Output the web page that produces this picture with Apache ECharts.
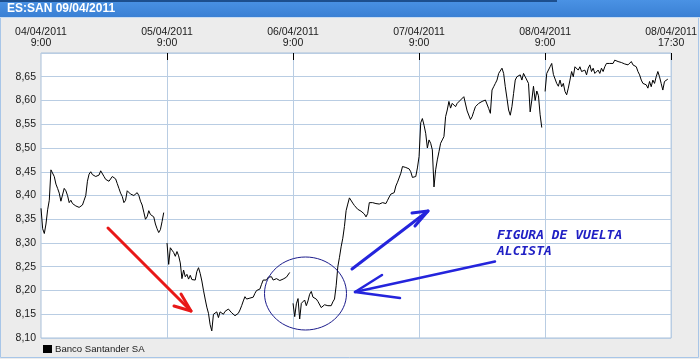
<!DOCTYPE html>
<html>
<head>
<meta charset="utf-8">
<script src="https://cdn.jsdelivr.net/npm/echarts@6/dist/echarts.min.js"></script>
<style>
html,body{margin:0;padding:0;background:#ececec;}
#c{width:700px;height:359px;}
</style>
</head>
<body>
<div id="c"></div>
<script>
// ---- data ----
const titleText = 'ES:SAN 09/04/2011';
const seriesName = 'Banco Santander SA';
const dayLabels = ['04/04/2011', '05/04/2011', '06/04/2011', '07/04/2011', '08/04/2011', '08/04/2011'];
const timeLabels = ['9:00', '9:00', '9:00', '9:00', '9:00', '17:30'];
const yMin = 8.10, yMax = 8.70, yStep = 0.05;
const STEP = 1 / 76; // sampling interval, fraction of one session

const day1 = [8.373,8.330,8.320,8.340,8.370,8.390,8.454,8.454,8.440,8.424,8.415,8.405,8.388,8.390,8.415,8.410,8.400,8.385,8.390,8.383,
  8.381,8.378,8.376,8.375,8.376,8.380,8.390,8.400,8.430,8.445,8.450,8.444,8.446,8.440,8.436,8.443,8.452,8.448,8.440,8.434,
  8.431,8.430,8.434,8.440,8.443,8.435,8.425,8.415,8.405,8.398,8.385,8.390,8.410,8.410,8.403,8.405,8.400,8.403,8.406,8.400,
  8.388,8.380,8.365,8.350,8.355,8.368,8.360,8.364,8.355,8.340,8.330,8.322,8.328,8.345,8.364];
const day2 = [8.300,8.255,8.290,8.285,8.280,8.272,8.282,8.273,8.258,8.225,8.243,8.229,8.234,8.224,8.232,8.223,8.227,8.222,8.240,8.248,
  8.236,8.220,8.200,8.182,8.165,8.152,8.128,8.115,8.150,8.146,8.155,8.143,8.155,8.157,8.150,8.156,8.158,8.161,8.157,8.153,
  8.149,8.147,8.149,8.152,8.159,8.168,8.178,8.187,8.182,8.178,8.184,8.185,8.186,8.194,8.200,8.200,8.203,8.213,8.222,8.220,
  8.222,8.228,8.230,8.229,8.222,8.221,8.225,8.222,8.221,8.223,8.224,8.225,8.228,8.229,8.238];
const day3 = [8.173,8.145,8.172,8.183,8.140,8.173,8.170,8.180,8.168,8.178,8.192,8.198,8.186,8.184,8.182,8.177,8.175,8.164,8.168,8.170,
  8.172,8.168,8.167,8.168,8.176,8.182,8.210,8.250,8.270,8.292,8.310,8.335,8.368,8.382,8.395,8.398,8.384,8.379,8.375,8.371,
  8.369,8.367,8.366,8.361,8.355,8.362,8.385,8.387,8.385,8.384,8.383,8.386,8.382,8.384,8.385,8.382,8.383,8.390,8.397,8.403,
  8.403,8.406,8.420,8.428,8.432,8.447,8.461,8.464,8.459,8.459,8.456,8.450,8.438,8.439,8.440,8.458];
const day4 = [8.482,8.553,8.562,8.548,8.531,8.500,8.517,8.510,8.496,8.418,8.454,8.475,8.492,8.510,8.517,8.524,8.566,8.580,8.598,8.584,
  8.594,8.591,8.587,8.594,8.598,8.601,8.605,8.608,8.612,8.578,8.577,8.560,8.566,8.577,8.587,8.591,8.594,8.591,8.598,8.594,
  8.601,8.605,8.583,8.573,8.622,8.629,8.636,8.643,8.657,8.661,8.668,8.657,8.629,8.605,8.580,8.569,8.587,8.615,8.643,8.650,
  8.646,8.654,8.643,8.657,8.650,8.654,8.636,8.576,8.601,8.630,8.600,8.620,8.610,8.570,8.543];
const day5 = [8.619,8.657,8.661,8.671,8.678,8.655,8.657,8.636,8.630,8.643,8.629,8.636,8.619,8.612,8.626,8.643,8.661,8.650,8.671,8.675,
  8.664,8.671,8.661,8.657,8.664,8.654,8.668,8.675,8.661,8.668,8.657,8.661,8.664,8.657,8.668,8.661,8.671,8.678,8.675,8.678,
  8.682,8.678,8.685,8.687,8.682,8.684,8.680,8.682,8.677,8.678,8.675,8.678,8.682,8.675,8.677,8.671,8.661,8.654,8.643,8.636,
  8.640,8.633,8.626,8.640,8.629,8.643,8.636,8.650,8.661,8.650,8.636,8.622,8.640,8.643,8.645];
// continuous trading segments (days 3 and 4 are drawn joined)
const segments = [[[0, day1]], [[1, day2]], [[2, day3], [3, day4]], [[4, day5]]];

// ---- build ----
function segData(seg) {
  const out = [];
  seg.forEach(([d, arr]) => arr.forEach((v, i) => out.push([d + i * STEP, v])));
  return out;
}
const fmtY = v => v.toFixed(2).replace('.', ',');
const gridColor = '#b9cde3';
const blue = '#2424dc';
const red = '#e81818';

const chart = echarts.init(document.getElementById('c'), null, {renderer: 'canvas'});
const font = 'Liberation Sans';
chart.setOption({
  animation: false,
  backgroundColor: '#ececec',
  grid: {left: 41, top: 53, right: 28, bottom: 21, show: true, backgroundColor: '#ffffff', borderColor: '#a9c0da', borderWidth: 1},
  legend: {
    data: [seriesName], left: 38, top: 339, icon: 'rect', itemWidth: 9, itemHeight: 8, itemGap: 4,
    textStyle: {fontFamily: font, fontSize: 9.6, color: '#1a1a1a', padding: [0, 0, 0, -2]},
    selectedMode: false
  },
  xAxis: {
    type: 'value', position: 'top', min: 0, max: 5, interval: 1,
    axisLine: {show: false},
    axisTick: {show: true, inside: true, length: 7, lineStyle: {color: '#000', width: 1}, customValues: [1, 2, 3, 4, 5]},
    axisLabel: {
      show: true, margin: 4, fontFamily: font, fontSize: 10.5, color: '#1a1a1a', lineHeight: 11,
      customValues: [0, 1, 2, 3, 4, 5],
      formatter: v => dayLabels[Math.round(v)] + '\n' + timeLabels[Math.round(v)]
    },
    splitLine: {show: true, lineStyle: {color: gridColor, width: 1}}
  },
  yAxis: {
    type: 'value', min: yMin, max: yMax, interval: yStep,
    axisLine: {show: false}, axisTick: {show: false},
    axisLabel: {margin: 5, fontFamily: font, fontSize: 10.5, color: '#1a1a1a',
      formatter: v => (Math.abs(v - yMax) < 1e-6 ? '' : fmtY(v))},
    splitLine: {show: true, lineStyle: {color: gridColor, width: 1}}
  },
  series: segments.map(seg => ({
    name: seriesName, type: 'line', data: segData(seg), showSymbol: false, symbol: 'none',
    lineStyle: {color: '#000', width: 1}, itemStyle: {color: '#000'}, silent: true
  })),
  graphic: [
    // title bar
    {type: 'rect', shape: {x: 0, y: 0, width: 700, height: 17}, style: {fill: new echarts.graphic.LinearGradient(0, 0, 0, 1, [{offset: 0, color: '#4a92e4'}, {offset: 1, color: '#3a80d4'}])}, z: 10},
    {type: 'rect', shape: {x: 0, y: 0, width: 557, height: 2}, style: {fill: '#1d4f8e'}, z: 11},
    {type: 'rect', shape: {x: 0, y: 17, width: 700, height: 1}, style: {fill: '#c8dcf2'}, z: 11},
    {type: 'text', x: 7, y: 9, style: {text: titleText, fill: '#ffffff', font: 'bold 12px "Liberation Sans"', textVerticalAlign: 'middle'}, z: 12},
    // outer frame
    {type: 'rect', shape: {x: 0.5, y: 17.5, width: 698, height: 340}, style: {fill: null, stroke: '#a8c6e8', lineWidth: 1}, z: 1},
    // red arrow
    {type: 'polyline', shape: {points: [[108, 228], [191, 311]]}, style: {stroke: red, lineWidth: 3, lineCap: 'round'}, z: 20},
    {type: 'polyline', shape: {points: [[174, 306], [191, 311], [181, 294]]}, style: {stroke: red, lineWidth: 3, lineCap: 'round', lineJoin: 'round', fill: null}, z: 20},
    // blue arrow up
    {type: 'polyline', shape: {points: [[352, 269], [428, 211]]}, style: {stroke: blue, lineWidth: 3, lineCap: 'round'}, z: 20},
    {type: 'polyline', shape: {points: [[412, 213], [428, 211], [415, 226]]}, style: {stroke: blue, lineWidth: 3, lineCap: 'round', lineJoin: 'round', fill: null}, z: 20},
    // blue arrow to circle
    {type: 'polyline', shape: {points: [[495, 261.5], [355, 292]]}, style: {stroke: blue, lineWidth: 2.5, lineCap: 'round'}, z: 20},
    {type: 'polyline', shape: {points: [[382, 275], [355, 292], [400, 298]]}, style: {stroke: blue, lineWidth: 2.5, lineCap: 'round', lineJoin: 'round', fill: null}, z: 20},
    // ellipse
    {type: 'ellipse', shape: {cx: 305.5, cy: 293.5, rx: 41, ry: 36.5}, style: {fill: null, stroke: '#1c1c8c', lineWidth: 1}, z: 20},
    // annotation text
    {type: 'text', x: 497, y: 236, style: {text: 'FIGURA DE VUELTA', fill: '#2020c4', font: 'italic bold 13px "DejaVu Sans Mono"', textVerticalAlign: 'middle'}, z: 20},
    {type: 'text', x: 497, y: 252, style: {text: 'ALCISTA', fill: '#2020c4', font: 'italic bold 13px "DejaVu Sans Mono"', textVerticalAlign: 'middle'}, z: 20}
  ]
});
</script>
</body>
</html>
